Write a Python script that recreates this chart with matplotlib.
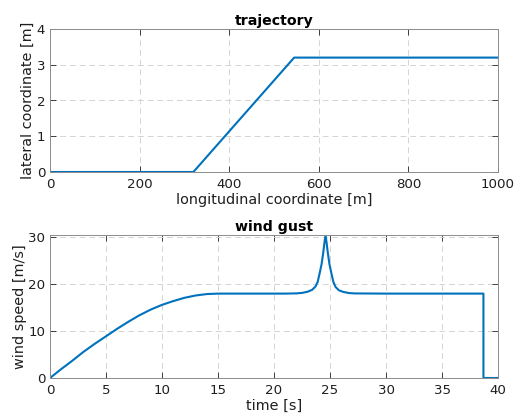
import matplotlib
matplotlib.use("Agg")
import matplotlib.pyplot as plt

plt.rcParams['font.family'] = ['DejaVu Sans']

# trajectory: longitudinal vs lateral coordinate
traj_x = [0, 320, 545, 1000]
traj_y = [0.0, 0.0, 3.2, 3.2]

# wind gust: time vs wind speed
wind_t = [0, 1, 2, 3, 4, 5, 6, 7, 8, 9, 10, 11, 12, 13, 14, 15,
          18, 21, 22.0, 22.5, 23.0, 23.4, 23.7, 23.9, 24.1, 24.25, 24.4, 24.5,
          24.6, 24.7, 24.8, 24.95, 25.1, 25.3, 25.5, 25.8, 26.2, 26.7, 27.2,
          30, 35, 38.7, 38.7, 40]
wind_v = [0.0, 1.9, 3.7, 5.6, 7.3, 8.9, 10.5, 12.0, 13.4, 14.6, 15.6, 16.4, 17.1, 17.6, 17.9, 18.0,
          18.0, 18.0, 18.05, 18.15, 18.4, 18.8, 19.5, 20.5, 22.6, 24.3, 26.8, 28.8,
          30.5, 28.8, 26.8, 24.3, 22.6, 20.5, 19.4, 18.7, 18.35, 18.12, 18.04,
          18.0, 18.0, 18.0, 0.0, 0.0]

LINE = '#0072BD'
AX = '#262626'
TXT = '#1e1e1e'
W, H = 515, 419
TICK_FS = 9.6
LABEL_FS = 10.4
TITLE_FS = 10.2

fig = plt.figure(figsize=(W / 100, H / 100), dpi=100)
ax1 = fig.add_axes([50 / W, 1 - 172 / H, 448 / W, 143 / H])
ax2 = fig.add_axes([50 / W, 1 - 378 / H, 448 / W, 143 / H])


def style(ax):
    ax.grid(True, linestyle=(0, (6, 4)), color='#d4d4d4', linewidth=0.7)
    ax.set_axisbelow(True)
    ax.tick_params(direction='in', top=True, right=True, length=4, width=0.6,
                   colors=AX, labelsize=TICK_FS, labelcolor=TXT)
    ax.tick_params(axis='x', pad=4.5)
    ax.tick_params(axis='y', pad=3.5)
    for s in ax.spines.values():
        s.set_color('#8c8c8c')
        s.set_linewidth(0.7)


ax1.plot(traj_x, traj_y, color=LINE, linewidth=1.5)
ax1.set_xlim(0, 1000)
ax1.set_ylim(0, 4)
ax1.set_xticks([0, 200, 400, 600, 800, 1000])
ax1.set_yticks([0, 1, 2, 3, 4])
ax1.set_xlabel('longitudinal coordinate [m]', fontsize=LABEL_FS, color=TXT, labelpad=1.5)
ax1.set_ylabel('lateral coordinate [m]', fontsize=LABEL_FS, color=TXT, labelpad=1)
ax1.set_title('trajectory', fontsize=TITLE_FS, fontweight='bold', color='black', pad=3)
style(ax1)

ax2.plot(wind_t, wind_v, color=LINE, linewidth=1.5)
ax2.set_xlim(0, 40)
ax2.set_ylim(0, max(wind_v))
ax2.set_xticks(range(0, 41, 5))
ax2.set_yticks([0, 10, 20, 30])
ax2.set_xlabel('time [s]', fontsize=LABEL_FS, color=TXT, labelpad=1.5)
ax2.set_ylabel('wind speed [m/s]', fontsize=LABEL_FS, color=TXT, labelpad=1)
ax2.set_title('wind gust', fontsize=TITLE_FS, fontweight='bold', color='black', pad=3)
style(ax2)

fig.savefig('out.png', dpi=100)
